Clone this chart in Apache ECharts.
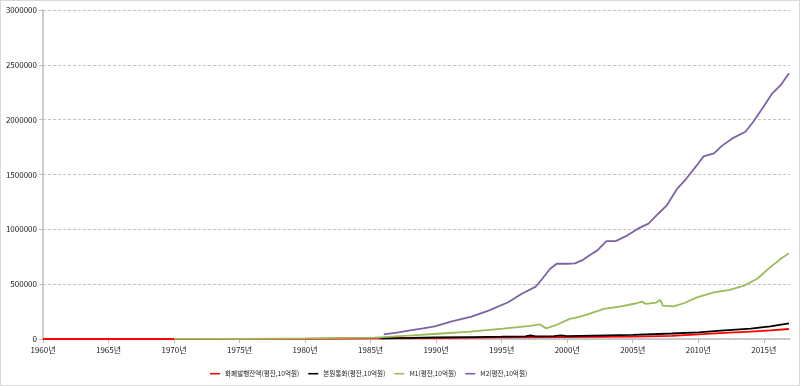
<!DOCTYPE html>
<html>
<head>
<meta charset="utf-8">
<script src="https://cdn.jsdelivr.net/npm/echarts@6/dist/echarts.min.js"></script>
<style>
html,body{margin:0;padding:0;background:#fff;}
#c{width:798px;height:384px;border:1px solid #d9d9d9;}
</style>
</head>
<body>
<div id="c"></div>
<script>
// Tick labels of the time axis
const xTicks = [1960, 1965, 1970, 1975, 1980, 1985, 1990, 1995, 2000, 2005, 2010, 2015];
const seriesNames = ['화폐발행잔액(평잔,10억원)', '본원통화(평잔,10억원)', 'M1(평잔,10억원)', 'M2(평잔,10억원)'];

// 화폐발행잔액
const curYears  = [1960, 1965, 1970, 1975, 1980, 1985, 1990, 1995, 2000, 2005, 2008, 2010, 2012, 2014, 2015.5, 2016.92];
const curValues = [30, 60, 200, 600, 2000, 5000, 9000, 14000, 18000, 21000, 28000, 42000, 55000, 67000, 78000, 91000];

// 본원통화
const baseYears  = [1985.75, 1988, 1990, 1993, 1995, 1996.8, 1997.2, 1997.6, 1999.0, 1999.5, 2000.0, 2002.0, 2005.0, 2008.0, 2010.0, 2012.0, 2014.0, 2015.5, 2016.92];
const baseValues = [7000, 10000, 14000, 18000, 21000, 24000, 32000, 24000, 27000, 33000, 26000, 30000, 37000, 50000, 60000, 78000, 95000, 115000, 143000];

// M1
const m1Years  = [1970.0, 1975.0, 1978.0, 1980.0, 1983.0, 1985.3, 1987.9, 1990.4, 1992.6, 1995.1, 1997.2, 1997.9, 1998.4, 1999.2, 2000.2, 2000.6, 2001.5, 2002.8, 2004.0, 2005.3, 2005.7, 2006.0, 2006.8, 2007.1, 2007.3, 2008.1, 2008.9, 2009.9, 2011.2, 2012.4, 2013.5, 2014.5, 2015.5, 2016.3, 2016.92];
const m1Values = [800, 2000, 4000, 6000, 10000, 12000, 30000, 50000, 67000, 95000, 120000, 134000, 97000, 130000, 183000, 192000, 222000, 274000, 295000, 326000, 341000, 320000, 332000, 357000, 305000, 298000, 326000, 380000, 426000, 448000, 487000, 549000, 655000, 732000, 783000];

// M2
const m2Years  = [1986.0, 1987.0, 1987.9, 1989.0, 1989.9, 1991.2, 1992.7, 1994.0, 1995.5, 1996.5, 1997.6, 1998.1, 1998.7, 1999.2, 2000.0, 2000.6, 2001.2, 2001.8, 2002.3, 2003.0, 2003.7, 2004.6, 2005.4, 2006.2, 2007.0, 2007.6, 2008.4, 2009.1, 2009.9, 2010.4, 2011.2, 2011.8, 2012.6, 2013.6, 2014.2, 2014.9, 2015.6, 2016.3, 2016.92];
const m2Values = [42000, 58000, 76000, 96000, 115000, 161000, 204000, 259000, 335000, 411000, 478000, 549000, 640000, 686000, 686000, 690000, 722000, 771000, 808000, 893000, 893000, 945000, 1006000, 1052000, 1149000, 1219000, 1372000, 1463000, 1585000, 1665000, 1692000, 1761000, 1829000, 1890000, 1981000, 2104000, 2232000, 2317000, 2424000];

const colors = ['#ff0000', '#000000', '#9bbb59', '#7e62a6'];
const pairs = (xs, ys) => xs.map((x, i) => [x, ys[i]]);
const allData = [pairs(curYears, curValues), pairs(baseYears, baseValues), pairs(m1Years, m1Values), pairs(m2Years, m2Values)];

const chart = echarts.init(document.getElementById('c'), null, {renderer: 'canvas'});
const font = '"Noto Sans CJK KR", "Noto Sans", sans-serif';
chart.setOption({
  animation: false,
  color: colors,
  grid: {left: 42, right: 9, top: 9, bottom: 46, containLabel: false},
  legend: {
    left: 204, bottom: 3,
    icon: 'rect', itemWidth: 10, itemHeight: 1.6, itemGap: 9,
    textStyle: {fontSize: 6.6, color: '#222', fontFamily: font},
    data: seriesNames
  },
  xAxis: {
    type: 'value', min: 1960, max: 2017, interval: 5,
    splitLine: {show: false},
    axisLine: {lineStyle: {color: '#bdbdbd', width: 1.5}},
    axisTick: {show: true, length: 4, lineStyle: {color: '#bdbdbd'}, customValues: xTicks},
    axisLabel: {customValues: xTicks, formatter: v => v + '년', fontSize: 8, color: '#222', fontFamily: font, margin: 7}
  },
  yAxis: {
    type: 'value', min: 0, max: 3000000, interval: 500000,
    axisLine: {show: true, lineStyle: {color: '#bdbdbd', width: 1.5}},
    axisTick: {show: true, length: 4, lineStyle: {color: '#bdbdbd'}},
    splitLine: {lineStyle: {color: '#c4c4c4', type: [3, 2], width: 1}},
    axisLabel: {formatter: v => String(v), fontSize: 8, color: '#222', fontFamily: font, margin: 6}
  },
  series: seriesNames.map((n, i) => ({
    name: n, type: 'line', data: allData[i], showSymbol: false, symbol: 'none',
    lineStyle: {width: 1.8, color: colors[i]}, z: 2 + i
  }))
});
</script>
</body>
</html>
